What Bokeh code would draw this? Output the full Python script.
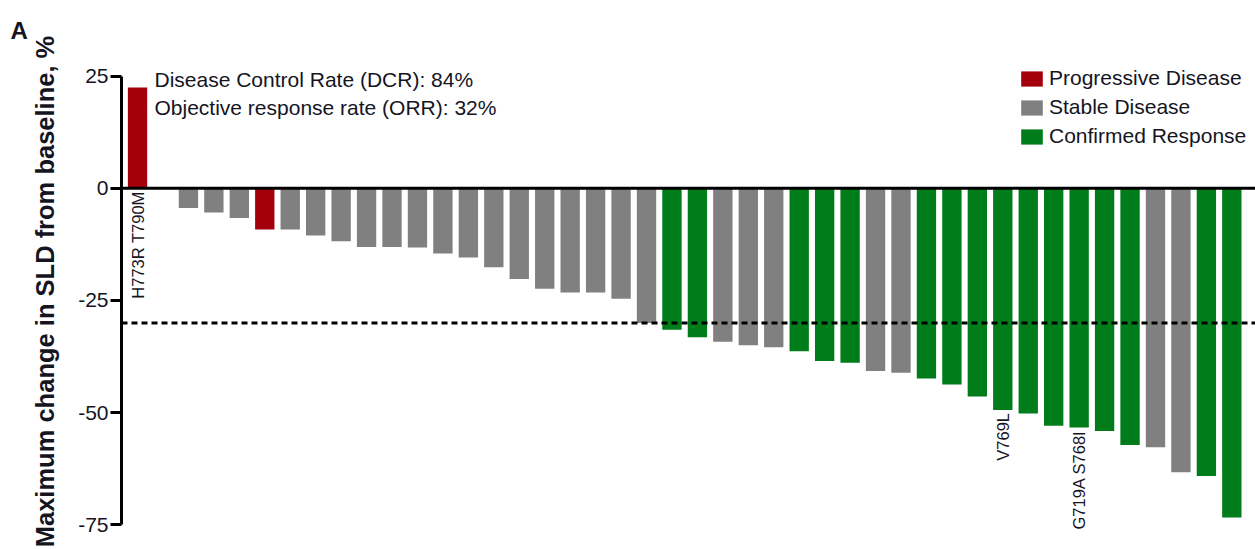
import numpy as np
from bokeh.plotting import figure
from bokeh.models import (Range1d, Span, Label, Legend, LegendItem,
                          ColumnDataSource, FixedTicker)
from bokeh.core.properties import value
from bokeh.embed import file_html
from bokeh.resources import INLINE

# Maximum change in sum of longest diameters (SLD) from baseline, %, one bar per patient
sld_change = [22.5, 0.0, -4.4, -5.4, -6.6, -9.2, -9.2, -10.5, -11.8, -13.1,
              -13.1, -13.2, -14.5, -15.4, -17.6, -20.2, -22.4, -23.2, -23.2, -24.6,
              -30.0, -31.5, -33.2, -34.2, -35.0, -35.4, -36.3, -38.5, -38.9, -40.7,
              -41.1, -42.4, -43.7, -46.4, -49.4, -50.2, -52.9, -53.3, -54.1, -57.2,
              -57.7, -63.3, -64.1, -73.4]

# Best response per patient: PD progressive, SD stable, CR confirmed response
response = ["PD", "SD", "SD", "SD", "SD", "PD", "SD", "SD", "SD", "SD",
            "SD", "SD", "SD", "SD", "SD", "SD", "SD", "SD", "SD", "SD",
            "SD", "CR", "CR", "SD", "SD", "SD", "CR", "CR", "CR", "SD",
            "SD", "CR", "CR", "CR", "CR", "CR", "CR", "CR", "CR", "CR",
            "SD", "SD", "CR", "CR"]

# Uncommon EGFR mutations annotated under selected bars
mutation = ["H773R T790M", "", "", "", "", "", "", "", "", "",
            "", "", "", "", "", "", "", "", "", "",
            "", "", "", "", "", "", "", "", "", "",
            "", "", "", "", "V769L", "", "", "G719A S768I", "", "",
            "", "", "", ""]

response_order = ["PD", "SD", "CR"]
response_names = ["Progressive Disease", "Stable Disease", "Confirmed Response"]
response_colors = ["#A3000C", "#808080", "#007C1A"]

y_ticks = [25, 0, -25, -50, -75]
y_tick_labels = ["25", "0", "-25", "-50", "-75"]
response_threshold = -30

dcr_text = "Disease Control Rate (DCR): 84%"
orr_text = "Objective response rate (ORR): 32%"
y_title = "Maximum change in SLD from baseline, %"
panel_tag = "A"

FONT = "Liberation Sans"
INK = "#15151f"

# ---- frame geometry (pixels) ----
W, H = 1255, 549
LEFT, RIGHT, TOP, BOTTOM = 121, 0, 53, 20
X0, X1 = -0.63, 43.93
Y0, Y1 = -76.05, 30.06


def px_to_x(px):
    return X0 + (px - LEFT) * (X1 - X0) / (W - LEFT - RIGHT)


def py_to_y(py):
    return Y1 - (py - TOP) * (Y1 - Y0) / (H - TOP - BOTTOM)


p = figure(width=W, height=H, x_range=Range1d(X0, X1), y_range=Range1d(Y0, Y1),
           output_backend="svg", toolbar_location=None, x_axis_location=None,
           min_border_left=LEFT, min_border_right=RIGHT,
           min_border_top=TOP, min_border_bottom=BOTTOM)
p.grid.visible = False
p.outline_line_color = None
p.background_fill_color = "white"
p.border_fill_color = "white"

# ---- panel tag in the title slot ----
p.title.text = panel_tag
p.title.align = "left"
p.title.offset = 10 - LEFT
p.title.standoff = 19
p.title.text_font = FONT
p.title.text_font_size = "24px"
p.title.text_font_style = "bold"
p.title.text_color = INK

# ---- bars, one renderer per response class ----
idx = np.arange(len(sld_change))
legend_items = []
for code, name, color in zip(response_order, response_names, response_colors):
    sel = [i for i, r in enumerate(response) if r == code]
    src = ColumnDataSource(dict(x=idx[sel], top=[sld_change[i] for i in sel]))
    r = p.vbar(x="x", top="top", bottom=0, width=0.76, source=src,
               fill_color=color, line_color=None)
    legend_items.append(LegendItem(label=name, renderers=[r]))

# ---- zero line and -30 % partial-response threshold ----
p.add_layout(Span(location=0, dimension="width", line_color="black", line_width=3))
p.add_layout(Span(location=response_threshold, dimension="width", line_color="black",
                  line_width=3, line_dash="6 4"))

# ---- mutation labels under bars ----
lab_i = [i for i, m in enumerate(mutation) if m]
lab_src = ColumnDataSource(dict(x=idx[lab_i],
                                y=[min(sld_change[i], 0) for i in lab_i],
                                text=[mutation[i] for i in lab_i]))
p.text(x="x", y="y", text="text", source=lab_src, angle=np.pi / 2,
       text_align="right", text_baseline="middle", y_offset=3,
       text_font=value(FONT), text_font_size="16.5px", text_color=INK)

# ---- y axis ----
ax = p.yaxis[0]
ax.ticker = FixedTicker(ticks=y_ticks)
ax.major_label_overrides = dict(zip(y_ticks, y_tick_labels))
ax.bounds = (-75, 25)
ax.axis_line_width = 3
ax.axis_line_color = "black"
ax.major_tick_line_width = 3
ax.major_tick_line_color = "black"
ax.major_tick_out = 11
ax.major_tick_in = 0
ax.minor_tick_line_color = None
ax.major_label_standoff = 2
ax.major_label_text_font = FONT
ax.major_label_text_font_size = "21px"
ax.major_label_text_color = INK
ax.axis_label = y_title
ax.axis_label_standoff = 16
ax.axis_label_text_font = FONT
ax.axis_label_text_font_size = "25.5px"
ax.axis_label_text_font_style = "bold"
ax.axis_label_text_color = INK

# ---- rate annotations ----
for txt, base in ((dcr_text, 79), (orr_text, 107)):
    p.add_layout(Label(x=px_to_x(154), y=py_to_y(base), text=txt,
                       text_align="left", text_baseline="alphabetic",
                       text_font=FONT, text_font_size="21px", text_color=INK))

# ---- legend ----
legend = Legend(items=legend_items, location=(897, 381), orientation="vertical",
                glyph_width=27, glyph_height=19, label_standoff=4, spacing=5,
                padding=0, margin=0, border_line_color=None,
                background_fill_alpha=0, label_text_font=FONT,
                label_text_font_size="21px", label_text_color=INK)
p.add_layout(legend)

open("out.html", "w").write(file_html(p, INLINE))
